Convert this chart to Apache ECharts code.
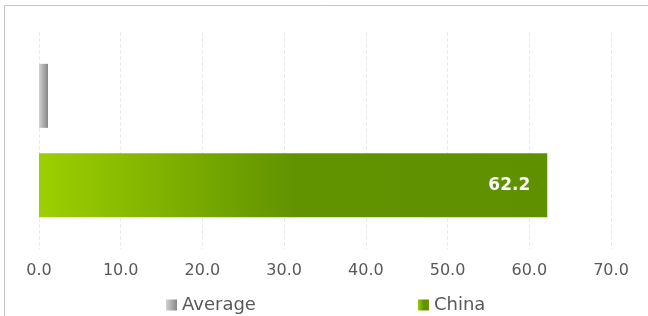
<!DOCTYPE html>
<html>
<head>
<meta charset="utf-8">
<script src="https://cdn.jsdelivr.net/npm/echarts@6/dist/echarts.min.js"></script>
<style>html,body{margin:0;padding:0;background:#fff;}#c{width:648px;height:316px;}</style>
</head>
<body>
<div id="c"></div>
<script>
// Data
const categories = ['China', 'Average'];
const chinaValues = [62.2, '-'];
const averageValues = ['-', 1.1];
const legendNames = ['Average', 'China'];
const xMin = 0, xMax = 70, xInterval = 10;

const chart = echarts.init(document.getElementById('c'), null, {renderer: 'canvas'});
const font = "'DejaVu Sans', sans-serif";
chart.setOption({
  animation: false,
  backgroundColor: '#fff',
  graphic: [{
    type: 'rect', silent: true, z: -1,
    shape: {x: 4.5, y: 5.5, width: 700, height: 400},
    style: {fill: 'none', stroke: '#c3c3c3', lineWidth: 1}
  }],
  grid: {left: 39, right: 37, top: 32, bottom: 67, containLabel: false},
  legend: {
    data: legendNames,
    left: 166, top: 296, padding: 0,
    itemGap: 162, itemWidth: 11, itemHeight: 11, icon: 'rect',
    textStyle: {fontFamily: font, fontSize: 18, color: '#595959'}
  },
  xAxis: {
    type: 'value', min: xMin, max: xMax, interval: xInterval,
    axisLine: {show: false}, axisTick: {show: false},
    axisLabel: {fontFamily: font, fontSize: 16, color: '#595959', margin: 14,
      formatter: v => v.toFixed(1)},
    splitLine: {show: true, lineStyle: {color: '#ebebeb', type: [4, 2], width: 1}}
  },
  yAxis: {
    type: 'category', data: categories,
    axisLine: {show: false}, axisTick: {show: false}, axisLabel: {show: false},
    splitLine: {show: false}
  },
  series: [
    {
      name: 'China', type: 'bar', data: chinaValues,
      barWidth: 64, barGap: '-70%',
      itemStyle: {color: new echarts.graphic.LinearGradient(0, 0, 1, 0, [
        {offset: 0, color: '#9dcf00'},
        {offset: 0.5, color: '#619300'},
        {offset: 1, color: '#5f9000'}
      ])},
      label: {show: true, position: 'insideRight', distance: 17,
        formatter: p => p.value.toFixed(1),
        fontFamily: font, fontSize: 17, fontWeight: 'bold', color: '#fff'}
    },
    {
      name: 'Average', type: 'bar', data: averageValues,
      barWidth: 64, barGap: '-70%',
      itemStyle: {color: new echarts.graphic.LinearGradient(0, 0, 1, 0, [
        {offset: 0, color: '#d2d2d2'},
        {offset: 1, color: '#878787'}
      ])}
    }
  ]
});
</script>
</body>
</html>
